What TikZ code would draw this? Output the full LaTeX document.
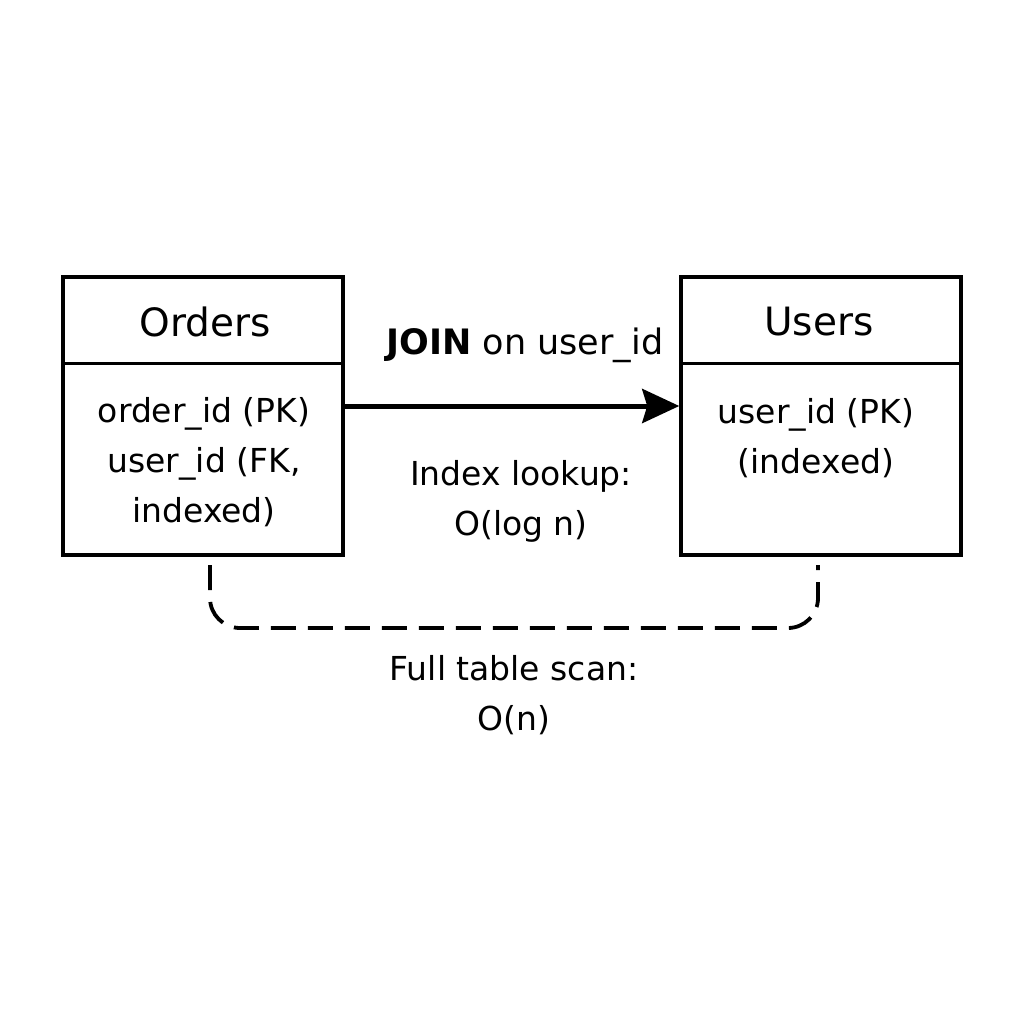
\documentclass[tikz,border=0pt]{standalone}
\usepackage{fontspec}
\setmainfont{DejaVu Sans}
\usetikzlibrary{arrows.meta}
\begin{document}
\begin{tikzpicture}[x=1pt,y=-1pt,
  tbl/.style={draw, line width=3.5pt, minimum width=280pt, minimum height=278pt, inner sep=0pt},
  divider/.style={line width=3.5pt},
  ttl/.style={font=\fontsize{39}{47}\selectfont, inner sep=0pt},
  txt/.style={font=\fontsize{33}{50}\selectfont, align=center, inner sep=0pt},
  joinarrow/.style={-{Stealth[length=37pt,width=34pt,inset=5pt]}, line width=5pt},
  scanline/.style={dash pattern=on 25pt off 12pt, line width=3.8pt, rounded corners=30pt}]
\useasboundingbox (0,0) rectangle (1024,1024);
\fill[white] (0,0) rectangle (1024,1024);
% tables
\node[tbl] (orders) at (203,416) {};
\node[tbl] (users) at (821,416) {};
\draw[divider] ([yshift=-88pt]orders.north west) -- ([yshift=-88pt]orders.north east);
\draw[divider] ([yshift=-88pt]users.north west) -- ([yshift=-88pt]users.north east);
\node[ttl] (ordersT) at (205,322) {Orders};
\node[ttl] (usersT) at (819,322) {Users};
\node[txt] (ordersB) at (204,462) {order\_id (PK)\\user\_id (FK,\\indexed)};
\node[txt] (usersB) at (816,438) {user\_id (PK)\\(indexed)};
% join arrow
\draw[joinarrow] ([yshift=10pt]orders.east) -- ([yshift=10pt]users.west);
\node[txt, font=\fontsize{35}{50}\selectfont] (join) at (525,345) {\textbf{JOIN} on user\_id};
\node[txt] (idx) at (521,501) {Index lookup:\\O(log n)};
% full scan
\coordinate (dl) at (210,565);
\coordinate (dr) at (818,565);
\draw[scanline] (dl) -- (210,628) -- (818,628) -- (dr);
\node[txt] (full) at (514,695) {Full table scan:\\O(n)};
\end{tikzpicture}
\end{document}
